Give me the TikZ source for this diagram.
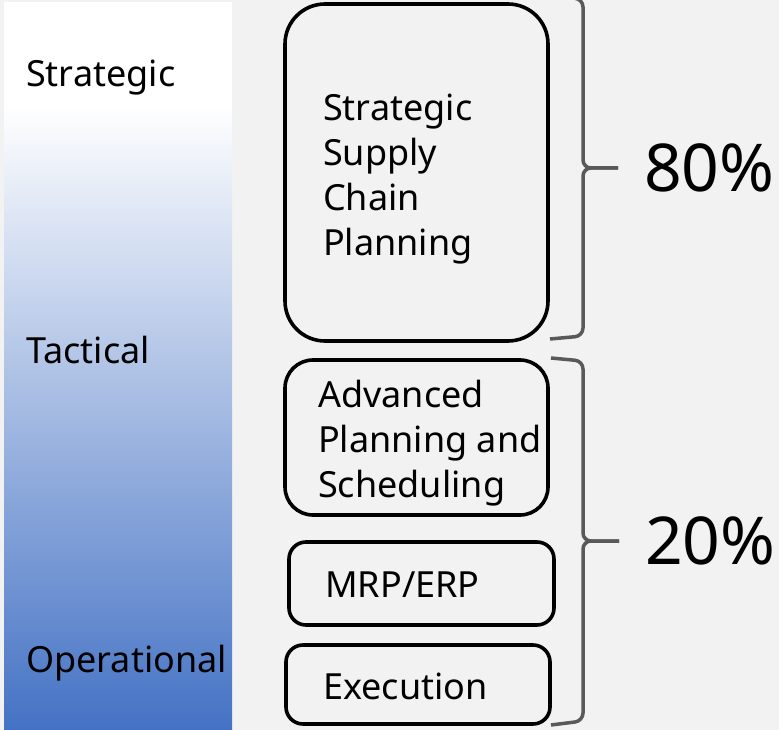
\documentclass[tikz,border=0pt]{standalone}
\usepackage{fontspec}
\setmainfont{Noto Sans}
\usetikzlibrary{positioning}
\definecolor{panelgray}{HTML}{F2F2F2}
\definecolor{opblue}{HTML}{4472C4}
\definecolor{bracegray}{HTML}{595959}

\begin{document}
\begin{tikzpicture}[x=1pt, y=-1pt,
   stage/.style={draw=black, line width=3.6pt, inner sep=0pt},
   level/.style={font=\fontsize{36}{45}\selectfont, inner sep=0pt, anchor=base west, align=left},
   share/.style={font=\fontsize{66}{70}\selectfont, inner sep=0pt},
   bracket/.style={draw=bracegray, line width=3.5pt, rounded corners=8pt}]
\fill[panelgray] (0,0) rectangle (779,730);
\useasboundingbox (0,0) rectangle (779,730);

% planning horizon bar
\fill[white] (4,2) rectangle (232,106);
\shade[top color=white, bottom color=opblue] (4,105) rectangle (232,730);

\node[level] (strat) at (26,87) {Strategic};
\node[level] (tact) at (26,363) {Tactical};
\node[level] (oper) at (26,672) {Operational};

% planning layers
\node[stage, minimum width=263pt, minimum height=337pt, rounded corners=40pt] (scp) at (416.5,172.5) {};
\node[stage, minimum width=263pt, minimum height=155pt, rounded corners=28pt] (aps) at (416.5,437.5) {};
\node[stage, minimum width=265pt, minimum height=83pt, rounded corners=17pt] (mrp) at (421.5,583.5) {};
\node[stage, minimum width=264pt, minimum height=79pt, rounded corners=17pt] (exec) at (418,684.5) {};

% base anchor sits on the last line
\node[level] (scptext) at (323,255) {Strategic\\Supply\\Chain\\Planning};
\node[level] (apstext) at (318,497) {Advanced\\Planning and\\Scheduling};
\node[level] (mrptext) at (325,597) {MRP/ERP};
\node[level] (exectext) at (323,699) {Execution};

% braces
\coordinate (uppertip) at (618,168);
\coordinate (lowertip) at (619,541);
\draw[bracket] (551,-4) -- (583,-1) -- (583,168) -- (uppertip);
\draw[bracket] (uppertip) -- (583,168) -- (583,336) -- (550,339);
\draw[bracket] (551,358) -- (583,361) -- (583,541) -- (lowertip);
\draw[bracket] (lowertip) -- (583,541) -- (583,721) -- (551,725);

\node[share, right=26pt of uppertip] (upper) {80\%};
\node[share, right=26pt of lowertip] (lower) {20\%};
\end{tikzpicture}
\end{document}
